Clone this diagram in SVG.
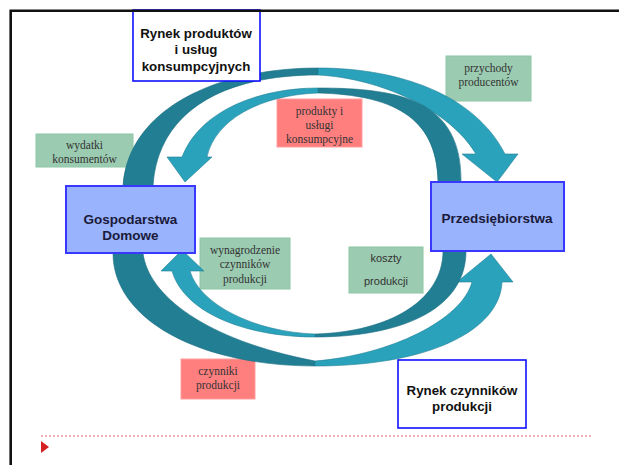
<svg xmlns="http://www.w3.org/2000/svg" width="619" height="465" viewBox="0 0 619 465">
<style>
.market{fill:#ffffff;stroke:#1010ff;stroke-width:1.6}
.agent{fill:#99b3fd;stroke:#3838ff;stroke-width:2}
.green{fill:#9bcbb1;stroke:#8ec6a6;stroke-width:1}
.red{fill:#ff7f7f;stroke:#ff9d9d;stroke-width:1}
.bold{font-family:"Liberation Sans",Arial,sans-serif;font-weight:bold;text-anchor:middle}
.serif{font-family:"Liberation Serif","Times New Roman",serif;font-size:11.5px;fill:#333;text-anchor:middle}
.sans{font-family:"Liberation Sans",Arial,sans-serif;font-size:11px;fill:#333;text-anchor:middle}
.dark{fill:#227e93;stroke:#1d7184;stroke-width:0.6}
.light{fill:#2ba2bc;stroke:#1f7f94;stroke-width:0.6}
</style>
<rect x="0" y="0" width="619" height="465" fill="#ffffff"/>

<g id="label-wydatki">
<rect class="green" x="36" y="134" width="97" height="33"/>
<text class="serif" x="84.5" y="149">wydatki</text>
<text class="serif" x="84.5" y="163">konsumentów</text>
</g>
<g id="label-przychody">
<rect class="green" x="446" y="56" width="85" height="45"/>
<text class="serif" x="488.5" y="72">przychody</text>
<text class="serif" x="488.5" y="86">producentów</text>
</g>
<g id="label-produkty">
<rect class="red" x="277" y="99" width="85" height="48"/>
<text class="serif" x="319.5" y="115">produkty i</text>
<text class="serif" x="319.5" y="129">usługi</text>
<text class="serif" x="319.5" y="143">konsumpcyjne</text>
</g>
<g id="label-wynagrodzenie">
<rect class="green" x="200" y="238" width="90" height="51"/>
<text class="serif" x="245" y="254">wynagrodzenie</text>
<text class="serif" x="245" y="268">czynników</text>
<text class="serif" x="245" y="283">produkcji</text>
</g>
<g id="label-koszty">
<rect class="green" x="349" y="247" width="74" height="46"/>
<text class="sans" x="386" y="262">koszty</text>
<text class="sans" x="386" y="285">produkcji</text>
</g>
<g id="label-czynniki">
<rect class="red" x="181" y="359" width="74" height="40"/>
<text class="serif" x="218" y="375">czynniki</text>
<text class="serif" x="218" y="389">produkcji</text>
</g>

<g id="connectors">
<path class="dark" d="M123,186 C128,110 215,68 318,68 L318,75 C225,75 158,110 153,186 Z"/>
<path class="light" d="M318,68 C400,68 475,95 505,154 L518,154 L497,182 L462,154 L476,154 C450,110 380,78 318,75 Z"/>
<path class="dark" d="M461,182 C462,100 400,88 318,88 L318,93 C390,95 437,115 438,182 Z"/>
<path class="light" d="M318,88 C260,88 200,110 182,157 L167,157 L185,182 L212,157 L207,157 C215,120 260,95 318,93 Z"/>
<path class="dark" d="M113,253 C113,320 200,366 315,366 L315,361 C205,340 148,295 143,253 Z"/>
<path class="light" d="M315,366 C430,366 500,330 502,282 L513,282 L491,254 L457,282 L472,282 C462,320 390,355 315,361 Z"/>
<path class="dark" d="M466,251 C466,310 400,337 315,337 L315,334 C390,332 443,300 443,251 Z"/>
<path class="light" d="M315,337 C250,337 185,315 172,271 L161,271 L182,250 L204,271 L190,271 C200,305 255,332 315,334 Z"/>
</g>

<g id="market-products">
<rect class="market" x="133" y="10" width="127" height="71"/>
<text class="bold" x="196" y="37.5" font-size="13.3" fill="#111">Rynek produktów</text>
<text class="bold" x="196" y="54" font-size="13.3" fill="#111">i usług</text>
<text class="bold" x="196" y="70.5" font-size="13.3" fill="#111">konsumpcyjnych</text>
</g>
<g id="households">
<rect class="agent" x="66" y="186" width="129" height="67"/>
<text class="bold" x="130.5" y="224" font-size="13.5" fill="#1a1a3a">Gospodarstwa</text>
<text class="bold" x="130.5" y="240" font-size="13.5" fill="#1a1a3a">Domowe</text>
</g>
<g id="firms">
<rect class="agent" x="431" y="182" width="133" height="69"/>
<text class="bold" x="497" y="223" font-size="13.5" fill="#1a1a3a">Przedsiębiorstwa</text>
</g>
<g id="market-factors">
<rect class="market" x="398" y="360" width="128" height="68"/>
<text class="bold" x="462" y="395" font-size="13.3" fill="#111">Rynek czynników</text>
<text class="bold" x="462" y="411" font-size="13.3" fill="#111">produkcji</text>
</g>

<line x1="41" y1="436" x2="592" y2="436" stroke="#e06464" stroke-width="1" stroke-dasharray="2,2"/>
<polygon points="41,441 49,447 41,453" fill="#d42020"/>
<path d="M619,10.7 L10.7,10.7 L10.7,465" fill="none" stroke="#111" stroke-width="2.6"/>
</svg>
